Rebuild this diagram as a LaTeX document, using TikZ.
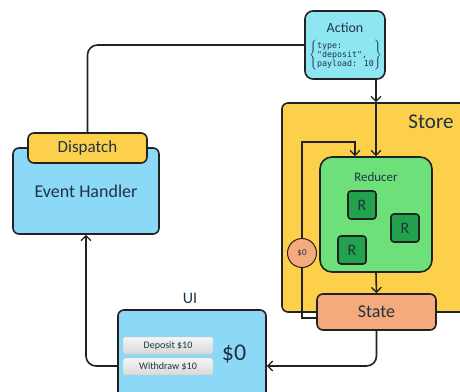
\documentclass[tikz,border=0pt]{standalone}
\usepackage{fontspec}
\setmainfont{Carlito}
\newfontfamily\codefont{DejaVu Sans Mono}
\usetikzlibrary{arrows.meta}
\definecolor{cyanbox}{HTML}{8FE6F3}
\definecolor{bluebox}{HTML}{8CD8F7}
\definecolor{yelbox}{HTML}{FCD04A}
\definecolor{grnbox}{HTML}{6EE07A}
\definecolor{rbox}{HTML}{23A24D}
\definecolor{salbox}{HTML}{F4AA7C}
\definecolor{ink}{HTML}{222222}
\definecolor{txt}{HTML}{1E3344}
\tikzset{bx/.style = {draw=ink, line width=1.6pt, rounded corners=6pt, inner sep=0pt, text=txt},
         rr/.style = {bx, fill=rbox, minimum size=28pt, rounded corners=3pt,
                      font=\fontsize{16}{18}\selectfont},
         btn/.style = {draw=gray!45, top color=gray!8, bottom color=gray!30, rounded corners=2pt,
                       minimum width=90pt, minimum height=17pt, inner sep=0pt, text=txt,
                       font=\fontsize{10}{12}\selectfont},
         ln/.style = {draw=ink, line width=1.6pt}}

\begin{document}
\begin{tikzpicture}[x=1pt, y=-1pt, >={Straight Barb[length=5pt,width=10pt,line width=1.3pt]}]
    \useasboundingbox[fill=white] (0,0) rectangle (460,391);
    % store and its parts
    \node[bx, fill=yelbox, minimum width=193pt, minimum height=209pt] (store) at (378.5,207.5) {};
    \node[text=txt, font=\fontsize{21}{24}\selectfont] (storelbl) at (431,122) {Store};
    \node[bx, fill=grnbox, minimum width=112pt, minimum height=115pt, rounded corners=12pt] (red) at (376,214.5) {};
    \node[text=txt, font=\fontsize{13}{15}\selectfont] (redlbl) at (376,177) {Reducer};
    \node[rr] (r1) at (362,205) {R}; \node[rr] (r2) at (405,228) {R}; \node[rr] (r3) at (352,250) {R};
    \node[bx, fill=salbox, minimum width=119pt, minimum height=36pt] (state) at (376.5,312)
         {\fontsize{18}{20}\selectfont State};
    % action
    \node[bx, fill=cyanbox, minimum width=80pt, minimum height=68pt, rounded corners=8pt] (act) at (345,45) {};
    \node[text=txt, font=\fontsize{14}{16}\selectfont] (actlbl) at (345,28) {Action};
    \node[inner sep=0pt, text=txt] (code) at (345.5,55)
         {$\left\{\mbox{\codefont\fontsize{8.3}{8.8}\selectfont\begin{tabular}{@{}l@{}}type:\\"deposit",\\payload: 10\end{tabular}}\right\}$};
    % event handler
    \node[bx, fill=bluebox, minimum width=146pt, minimum height=86pt] (hdl) at (86,191)
         {\fontsize{18}{20}\selectfont Event Handler};
    \node[bx, fill=yelbox, minimum width=119pt, minimum height=30pt] (disp) at (87.5,148)
         {\fontsize{17}{19}\selectfont Dispatch};
    % ui
    \node[bx, fill=bluebox, minimum width=148pt, minimum height=100pt] (ui) at (192,360) {};
    \node[text=txt, font=\fontsize{16}{18}\selectfont] (uilbl) at (190,298) {UI};
    \node[btn] (dep) at (168,345.5) {Deposit \$10};
    \node[btn] (wdr) at (168,366.5) {Withdraw \$10};
    \node[text=txt, font=\fontsize{24}{26}\selectfont] (bal) at (234,354) {\$0};
    % connectors
    \draw[ln, rounded corners=10pt] (disp.north) |- (act.west);
    \draw[ln, ->] (act.south -| red.north) -- (store.north -| red.north);
    \draw[ln, ->] (store.north -| red.north) -- (red.north);
    \coordinate (lp) at (302,142);
    \draw[ln, ->] ([yshift=-6pt]state.west) -| (lp) -| ([xshift=-21pt]red.north);
    \node[draw=ink, line width=1pt, circle, fill=salbox, minimum size=29pt, inner sep=0pt,
          text=txt, font=\fontsize{9}{10}\selectfont] (zero) at (302,253) {\$0};
    \draw[ln, ->] (red.south) -- (state.north);
    \draw[ln, ->, rounded corners=10pt] (state.south) |- ([yshift=-6pt]ui.east);
    \draw[ln, ->, rounded corners=10pt] ([yshift=-6pt]ui.west) -| (hdl.south);
\end{tikzpicture}
\end{document}
